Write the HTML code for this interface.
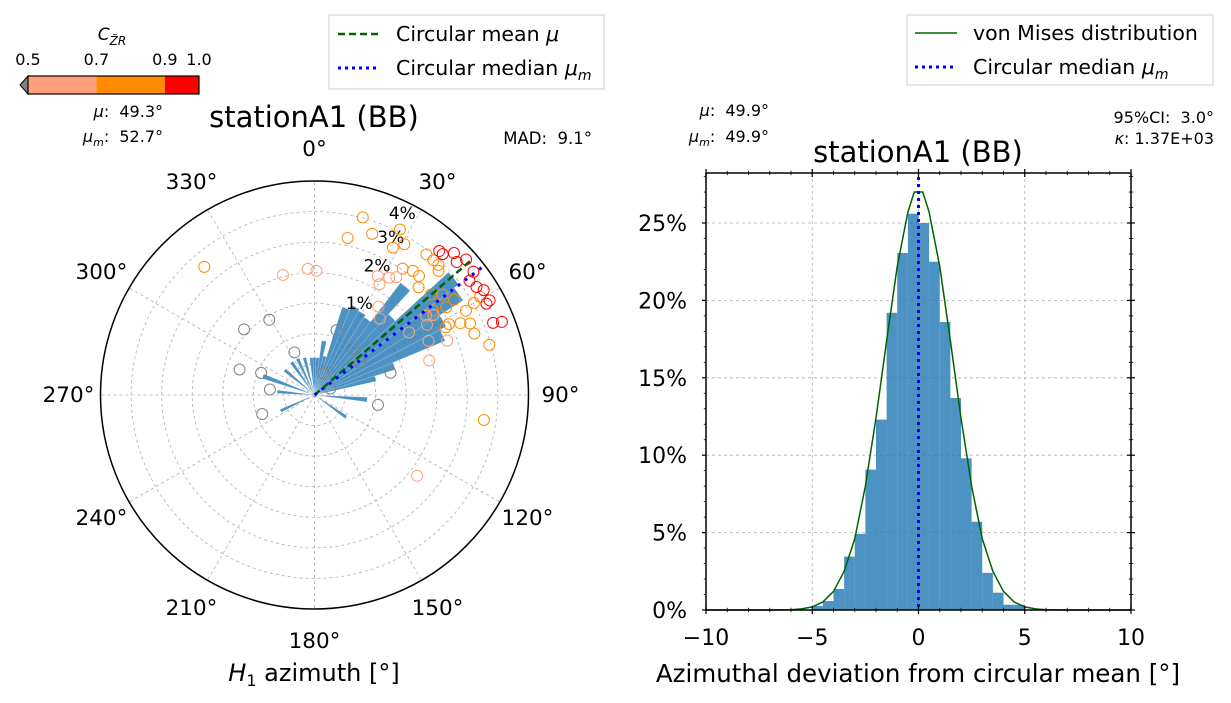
<!DOCTYPE html>
<html><head><meta charset="utf-8">
<style>
html,body{margin:0;padding:0;background:#fff;}
svg{display:block;font-family:"DejaVu Sans","Liberation Sans",sans-serif;}
text{white-space:pre;}
</style></head>
<body>
<svg id="fig" width="1231" height="703" viewBox="0 0 1231 703" xmlns="http://www.w3.org/2000/svg">
  <rect x="0" y="0" width="1231" height="703" fill="#fff"/>
  <g>
    <text x="112" y="40" font-size="17" text-anchor="middle" font-style="italic">C<tspan font-size="12" dy="5">Z̃R</tspan></text>
    <polygon points="20,85 28,76 28,94" fill="#808080" stroke="#000" stroke-width="1"/>
    <rect x="28" y="76" width="68.4" height="18" fill="#FFA07A"/>
    <rect x="96.4" y="76" width="68.4" height="18" fill="#FF8C00"/>
    <rect x="164.8" y="76" width="34.2" height="18" fill="#FF0000"/>
    <rect x="28" y="76" width="171" height="18" fill="none" stroke="#000" stroke-width="1.2"/>
    <text x="28" y="65" font-size="16" text-anchor="middle">0.5</text>
    <text x="96.4" y="65" font-size="16" text-anchor="middle">0.7</text>
    <text x="164.8" y="65" font-size="16" text-anchor="middle">0.9</text>
    <text x="199" y="65" font-size="16" text-anchor="middle">1.0</text>
  </g>
  <text x="163" y="117" font-size="16" text-anchor="end"><tspan font-style="italic">μ</tspan>:  49.3°</text>
  <text x="163" y="142" font-size="16" text-anchor="end"><tspan font-style="italic">μ<tspan font-size="11" dy="4">m</tspan></tspan><tspan dy="-4">:  52.7°</tspan></text>
  <text x="592" y="144" font-size="16.5" text-anchor="end">MAD:  9.1°</text>
  <text x="314" y="127" font-size="29" text-anchor="middle">stationA1 (BB)</text>

  <g>
    <rect x="329" y="15" width="275" height="74" fill="#fff" stroke="#ccc" stroke-width="1"/>
    <line x1="338" y1="34" x2="380" y2="34" stroke="#006400" stroke-width="2.5" stroke-dasharray="7,4"/>
    <text x="396" y="41" font-size="20.5">Circular mean <tspan font-style="italic">μ</tspan></text>
    <line x1="338" y1="68" x2="380" y2="68" stroke="#0000ff" stroke-width="3" stroke-dasharray="3,4"/>
    <text x="396" y="75" font-size="20.5">Circular median <tspan font-style="italic">μ<tspan font-size="14" dy="5">m</tspan></tspan></text>
  </g>

  <g id="polar"></g>
  <text x="314" y="681" font-size="24" text-anchor="middle"><tspan font-style="italic">H</tspan><tspan font-size="16" dy="5">1</tspan><tspan dy="-5"> azimuth [°]</tspan></text>

  <text x="769" y="116" font-size="16" text-anchor="end"><tspan font-style="italic">μ</tspan>:  49.9°</text>
  <text x="769" y="142" font-size="16" text-anchor="end"><tspan font-style="italic">μ<tspan font-size="11" dy="4">m</tspan></tspan><tspan dy="-4">:  49.9°</tspan></text>
  <text x="1214" y="123" font-size="16" text-anchor="end">95%CI:  3.0°</text>
  <text x="1214" y="144" font-size="16" text-anchor="end"><tspan font-style="italic">κ</tspan>: 1.37E+03</text>
  <text x="918" y="162" font-size="29" text-anchor="middle">stationA1 (BB)</text>
  <g>
    <rect x="907" y="15" width="306" height="70" fill="#fff" stroke="#ccc" stroke-width="1"/>
    <line x1="915" y1="33" x2="957" y2="33" stroke="#006400" stroke-width="1.5"/>
    <text x="973" y="40" font-size="20.5">von Mises distribution</text>
    <line x1="915" y1="67" x2="957" y2="67" stroke="#0000ff" stroke-width="3" stroke-dasharray="3,4"/>
    <text x="973" y="74" font-size="20.5">Circular median <tspan font-style="italic">μ<tspan font-size="14" dy="5">m</tspan></tspan></text>
  </g>
  <g id="hist"></g>
  <text x="918" y="682" font-size="24.5" text-anchor="middle">Azimuthal deviation from circular mean [°]</text>
</svg>
<script>
const roseAngles = [0,5,10,15,20,25,30,35,40,45,50,55,60,65,70,75,95,125,245,275,290,310,325,335,345,355];
const rosePct    = [0.14,0.14,0.3,0.16,0.85,0.94,0.9,0.85,2.0,1.2,3.3,3.1,2.2,2.0,0.72,0.4,0.28,0.15,0.14,0.14,0.3,0.15,0.16,0.16,0.15,0.14];
const ringPct = [1,2,3,4];
const ringLabels = ['1%','2%','3%','4%'];
const angleTicks = [0,30,60,90,120,150,180,210,240,270,300,330];
const angleTickLabels = ['0°','30°','60°','90°','120°','150°','180°','210°','240°','270°','300°','330°'];
const meanAz = 49.3;
const medianAz = 52.7;
const ptAz  = [15.2,11.9,19.7,27.3,28,30.8,34.9,38.4,41.3,38.5,41.4,43.6,45,44,49.2,51.9,55.7,60.9,60,59.3,56.3,62.2,63.8,65.3,69,74,98.4,62.7,54.5,319.3,
               40.9,44.5,48.2,46.9,42.3,52.2,56.3,58.2,61.6,62,68.7,68,53.6,
               345.3,357,0.9,28,30.4,32.5,34.8,35.9,40.6,56.5,58,54.6,56.1,64.6,67.7,73.2,128.2,
               313,329,334.7,18.8,39.9,54,22,67.6,73.7,98.8,288.8,292.5,277,250];
const ptR   = [0.86,0.75,0.80,0.87,0.78,0.82,0.72,0.74,0.74,0.84,0.84,0.84,0.82,0.70,0.72,0.76,0.79,0.81,0.86,0.90,0.74,0.71,0.76,0.80,0.80,0.85,0.80,0.69,0.68,0.79,
               0.89,0.93,0.95,0.91,0.89,0.94,0.91,0.93,0.93,0.91,0.94,0.90,0.90,
               0.58,0.59,0.58,0.63,0.60,0.65,0.67,0.51,0.47,0.53,0.62,0.64,0.67,0.59,0.67,0.56,0.61,
               0.45,0.41,0.22,0.32,0.28,0.26,0.11,0.08,0.37,0.30,0.37,0.27,0.21,0.26];
const ptCls = [2,2,2,2,2,2,2,2,2,2,2,2,2,2,2,2,2,2,2,2,2,2,2,2,2,2,2,2,2,2,
               3,3,3,3,3,3,3,3,3,3,3,3,3,
               1,1,1,1,1,1,1,1,1,1,1,1,1,1,1,1,1,
               0,0,0,0,0,0,0,0,0,0,0,0,0,0];
const clsColors = ['#808080','#FFA07A','#FF8C00','#FF0000'];

const NS='http://www.w3.org/2000/svg';
function mk(tag, attrs, parent){const e=document.createElementNS(NS,tag);for(const k in attrs)e.setAttribute(k,attrs[k]);parent.appendChild(e);return e;}

const CX=314.5, CY=395, R=214;
function rRose(p){return 100*Math.sqrt(p);}
function rPt(v){return v*R;}
function pxy(az,r){const a=az*Math.PI/180;return [CX+r*Math.sin(a), CY-r*Math.cos(a)];}
const polar=document.getElementById('polar');
for(let k=1;k<=6;k++){
  const c=mk('circle',{cx:CX,cy:CY,r:k*R/7,fill:'none',stroke:'#b0b0b0','stroke-width':0.8,'stroke-dasharray':'3,3'},polar);
  
  
}
angleTicks.forEach((a,i)=>{
  const [x,y]=pxy(a,R);
  const l=mk('line',{x1:CX,y1:CY,x2:x,y2:y,stroke:'#b0b0b0','stroke-width':0.8,'stroke-dasharray':'3,3'},polar);
  
  
  const [tx,ty]=pxy(a,R+32);
  const t=mk('text',{x:tx,y:ty+7,'font-size':21.5,'text-anchor':'middle'},polar);
  t.textContent=angleTickLabels[i];
  
  
});
roseAngles.forEach((a,i)=>{
  const r=rRose(rosePct[i]);
  const [x1,y1]=pxy(a-2.5,r),[x2,y2]=pxy(a+2.5,r);
  const p=mk('path',{d:`M${CX},${CY} L${x1},${y1} A${r},${r} 0 0 1 ${x2},${y2} Z`,fill:'#1f77b4','fill-opacity':0.8,stroke:'#ffffff','stroke-width':0.3,'stroke-opacity':0.5},polar);
  
  
});
ringPct.forEach((p,i)=>{
  const [x,y]=pxy(25.5,rRose(p)+4);
  const t=mk('text',{x:x,y:y+8,'font-size':17,'text-anchor':'middle'},polar);
  t.textContent=ringLabels[i];
  
  
});
ptAz.forEach((a,i)=>{
  const [x,y]=pxy(a,rPt(ptR[i]));
  const c=mk('circle',{cx:x,cy:y,r:5.5,fill:'none',stroke:clsColors[ptCls[i]],'stroke-width':1},polar);
  
  
});
{
  const [x,y]=pxy(meanAz,R*0.975);
  const l=mk('line',{x1:CX,y1:CY,x2:x,y2:y,stroke:'#006400','stroke-width':2.5,'stroke-dasharray':'7,4'},polar);
  
  
  const [x2,y2]=pxy(medianAz,R*0.985);
  const m=mk('line',{x1:CX,y1:CY,x2:x2,y2:y2,stroke:'#0000ff','stroke-width':3,'stroke-dasharray':'3,6'},polar);
  
  
}
{
  const c=mk('circle',{cx:CX,cy:CY,r:R,fill:'none',stroke:'#000','stroke-width':1.5},polar);
  
  
}

const binLeft = [-5,-4.5,-4,-3.5,-3,-2.5,-2,-1.5,-1,-0.5,0,0.5,1,1.5,2,2.5,3,3.5,4,4.5];
const binPct  = [0.26,0.58,1.36,3.45,4.92,9.07,12.3,19.2,23.06,25.6,25.0,22.5,18.6,13.7,9.8,5.7,2.4,1.12,0.34,0.34];
const vmX = [-10,-8,-7,-6,-5.5,-5,-4.5,-4,-3.5,-3,-2.5,-2,-1.5,-1,-0.5,-0.2,0.2,0.5,1,1.5,2,2.5,3,3.5,4,4.5,5,5.5,6,7,8,10];
const vmY = [0,0,0,0.02,0.07,0.2,0.52,1.2,2.5,4.6,8.0,12.4,17.4,22.2,25.7,27,27,25.7,22.2,17.4,12.4,8.0,4.6,2.5,1.2,0.52,0.2,0.07,0.02,0,0,0];
const xTicks=[-10,-5,0,5,10];
const xTickLabels=['−10','−5','0','5','10'];
const yTicks=[0,5,10,15,20,25];
const yTickLabels=['0%','5%','10%','15%','20%','25%'];
const binWidth=0.5;
const histMedian=0;

const L=706,Rr=1131,T=173,B=610;
const sx=v=>L+(v+10)/20*(Rr-L);
const sy=p=>B-p*15.48;
const hist=document.getElementById('hist');
xTicks.forEach(v=>{const l=mk('line',{x1:sx(v),y1:T,x2:sx(v),y2:B,stroke:'#b0b0b0','stroke-width':0.8,'stroke-dasharray':'3,3'},hist);
  });
yTicks.forEach(v=>{const l=mk('line',{x1:L,y1:sy(v),x2:Rr,y2:sy(v),stroke:'#b0b0b0','stroke-width':0.8,'stroke-dasharray':'3,3'},hist);
  });
binLeft.forEach((b,i)=>{
  const r=mk('rect',{x:sx(b),y:sy(binPct[i]),width:sx(b+binWidth)-sx(b),height:B-sy(binPct[i]),fill:'#1f77b4','fill-opacity':0.8},hist);
  
  
});
{
  const pts=vmX.map((x,i)=>sx(x)+','+sy(vmY[i])).join(' ');
  const pl=mk('polyline',{points:pts,fill:'none',stroke:'#006400','stroke-width':1.5},hist);
  
  
  const m=mk('line',{x1:sx(histMedian),y1:T+4,x2:sx(histMedian),y2:B,stroke:'#0000ff','stroke-width':3,'stroke-dasharray':'3,4'},hist);
  
  
}
{
  const f=mk('rect',{x:L,y:T,width:Rr-L,height:B-T,fill:'none',stroke:'#000','stroke-width':1.5},hist);
  
  
}
for(let v=-10;v<=10;v++){
  const major=v%5===0, len=major?4:2.2;
  [B,T].forEach(y0=>{
    const t=mk('line',{x1:sx(v),y1:y0-len,x2:sx(v),y2:y0+len,stroke:'#000','stroke-width':major?1.2:0.8},hist);
    
    
  });
}
for(let p=0;p<=28;p++){
  const major=p%5===0, len=major?4:2.2;
  [L,Rr].forEach(x0=>{
    const t=mk('line',{x1:x0-len,y1:sy(p),x2:x0+(x0===L?0:len),y2:sy(p),stroke:'#000','stroke-width':major?1.2:0.8},hist);
    
    
  });
}
xTicks.forEach((v,i)=>{const t=mk('text',{x:sx(v),y:645,'font-size':22,'text-anchor':'middle'},hist);t.textContent=xTickLabels[i];
  });
yTicks.forEach((v,i)=>{const t=mk('text',{x:687,y:sy(v)+8,'font-size':22,'text-anchor':'end'},hist);t.textContent=yTickLabels[i];
  });
</script>
</body></html>
